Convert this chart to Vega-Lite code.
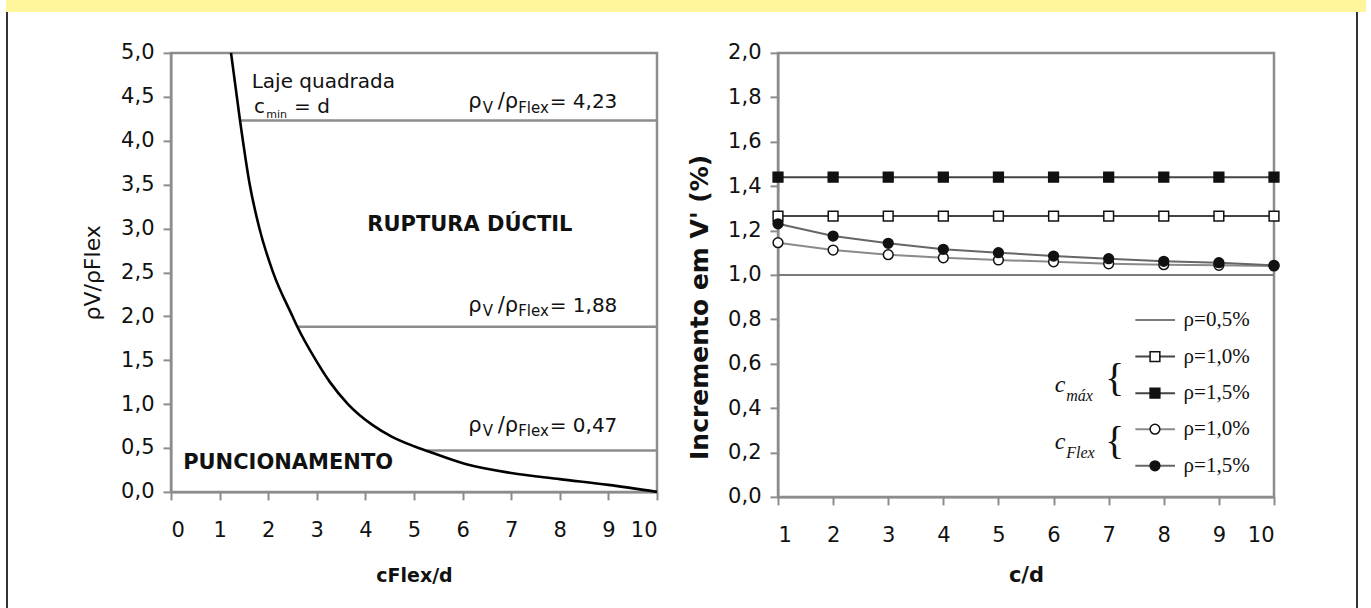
{
  "$schema": "https://vega.github.io/schema/vega-lite/v6.json",
  "padding": {"left": 6, "top": 0, "right": 0, "bottom": 0},
  "background": "#ffffff",
  "spacing": 0,
  "config": {
    "font": "DejaVu Sans",
    "view": {"stroke": null},
    "axis": {"domainColor": "#8c8c8c", "domainWidth": 2, "tickColor": "#8c8c8c", "tickWidth": 2, "tickSize": 8, "labelFont": "DejaVu Sans", "labelFontSize": 21, "labelColor": "#111111", "titleFont": "DejaVu Sans", "titleColor": "#111111", "grid": false, "labelOverlap": false},
    "text": {"font": "DejaVu Sans", "color": "#111111"}
  },
  "datasets": {
    "curve": [
      {"x": 1.235, "y": 5.0}, {"x": 1.42, "y": 4.23}, {"x": 1.62, "y": 3.5}, {"x": 1.82, "y": 3.0},
      {"x": 2.1, "y": 2.5}, {"x": 2.5, "y": 2.0}, {"x": 2.6, "y": 1.88}, {"x": 2.98, "y": 1.5},
      {"x": 3.27, "y": 1.25}, {"x": 3.64, "y": 1.0}, {"x": 4.15, "y": 0.76}, {"x": 4.54, "y": 0.63},
      {"x": 5.0, "y": 0.52}, {"x": 5.3, "y": 0.46}, {"x": 6.04, "y": 0.32}, {"x": 7.0, "y": 0.215},
      {"x": 8.0, "y": 0.145}, {"x": 9.0, "y": 0.08}, {"x": 10.0, "y": 0.0}
    ],
    "limits": [{"x": 1.42, "y": 4.23}, {"x": 2.6, "y": 1.88}, {"x": 5.26, "y": 0.47}],
    "ratio": [
      {"lab": "= 4,23", "x": 6.115, "y": 4.367},
      {"lab": "= 1,88", "x": 6.115, "y": 2.05},
      {"lab": "= 0,47", "x": 6.115, "y": 0.683}
    ],
    "series": [
      {"s": "p05", "x": 1, "y": 1.0}, {"s": "p05", "x": 2, "y": 1.0}, {"s": "p05", "x": 3, "y": 1.0}, {"s": "p05", "x": 4, "y": 1.0}, {"s": "p05", "x": 5, "y": 1.0},
      {"s": "p05", "x": 6, "y": 1.0}, {"s": "p05", "x": 7, "y": 1.0}, {"s": "p05", "x": 8, "y": 1.0}, {"s": "p05", "x": 9, "y": 1.0}, {"s": "p05", "x": 10, "y": 1.0},
      {"s": "max10", "x": 1, "y": 1.265}, {"s": "max10", "x": 2, "y": 1.265}, {"s": "max10", "x": 3, "y": 1.265}, {"s": "max10", "x": 4, "y": 1.265}, {"s": "max10", "x": 5, "y": 1.265},
      {"s": "max10", "x": 6, "y": 1.265}, {"s": "max10", "x": 7, "y": 1.265}, {"s": "max10", "x": 8, "y": 1.265}, {"s": "max10", "x": 9, "y": 1.265}, {"s": "max10", "x": 10, "y": 1.265},
      {"s": "max15", "x": 1, "y": 1.44}, {"s": "max15", "x": 2, "y": 1.44}, {"s": "max15", "x": 3, "y": 1.44}, {"s": "max15", "x": 4, "y": 1.44}, {"s": "max15", "x": 5, "y": 1.44},
      {"s": "max15", "x": 6, "y": 1.44}, {"s": "max15", "x": 7, "y": 1.44}, {"s": "max15", "x": 8, "y": 1.44}, {"s": "max15", "x": 9, "y": 1.44}, {"s": "max15", "x": 10, "y": 1.44},
      {"s": "flex10", "x": 1, "y": 1.145}, {"s": "flex10", "x": 2, "y": 1.112}, {"s": "flex10", "x": 3, "y": 1.091}, {"s": "flex10", "x": 4, "y": 1.077}, {"s": "flex10", "x": 5, "y": 1.067},
      {"s": "flex10", "x": 6, "y": 1.059}, {"s": "flex10", "x": 7, "y": 1.05}, {"s": "flex10", "x": 8, "y": 1.046}, {"s": "flex10", "x": 9, "y": 1.043}, {"s": "flex10", "x": 10, "y": 1.04},
      {"s": "flex15", "x": 1, "y": 1.23}, {"s": "flex15", "x": 2, "y": 1.175}, {"s": "flex15", "x": 3, "y": 1.142}, {"s": "flex15", "x": 4, "y": 1.115}, {"s": "flex15", "x": 5, "y": 1.1},
      {"s": "flex15", "x": 6, "y": 1.085}, {"s": "flex15", "x": 7, "y": 1.073}, {"s": "flex15", "x": 8, "y": 1.061}, {"s": "flex15", "x": 9, "y": 1.055}, {"s": "flex15", "x": 10, "y": 1.043}
    ],
    "legend": [
      {"s": "p05", "label": "ρ=0,5%", "y": 0.797},
      {"s": "max10", "label": "ρ=1,0%", "y": 0.632},
      {"s": "max15", "label": "ρ=1,5%", "y": 0.467},
      {"s": "flex10", "label": "ρ=1,0%", "y": 0.305},
      {"s": "flex15", "label": "ρ=1,5%", "y": 0.14}
    ],
    "groups": [
      {"sub": "máx", "y": 0.53, "cy": 0.471},
      {"sub": "Flex", "y": 0.246, "cy": 0.215}
    ]
  },
  "vconcat": [
    {"width": 1360, "height": 12, "data": {"values": [{}]}, "mark": {"type": "text", "text": ""}, "view": {"fill": "#fff59b", "stroke": null}},
    {
      "hconcat": [
        {"width": 2, "height": 616, "data": {"values": [{}]}, "mark": {"type": "text", "text": ""}, "view": {"fill": "#333333", "stroke": null}},
        {
          "hconcat": [
            {
              "width": 486, "height": 439,
              "view": {"stroke": "#8c8c8c", "strokeWidth": 2.5},
              "layer": [
                {
                  "data": {"name": "limits"},
                  "mark": {"type": "rule", "color": "#8c8c8c", "strokeWidth": 2.5},
                  "encoding": {
                    "x": {"field": "x", "type": "quantitative", "scale": {"domain": [0, 10], "nice": false, "zero": false},
                      "axis": {"values": [0, 1, 2, 3, 4, 5, 6, 7, 8, 9, 10], "format": "d", "labelPadding": 20, "title": "cFlex/d", "titleFontSize": 19, "titleFontWeight": "bold", "titlePadding": 26}},
                    "x2": {"datum": 10},
                    "y": {"field": "y", "type": "quantitative", "scale": {"domain": [0, 5], "nice": false, "zero": false},
                      "axis": {"values": [0, 0.5, 1, 1.5, 2, 2.5, 3, 3.5, 4, 4.5, 5], "labelExpr": "replace(format(datum.value, '.1f'), '.', ',')", "labelPadding": 9, "title": "ρV/ρFlex", "titleFontSize": 22, "titleFontWeight": "normal", "titlePadding": 16}}
                  }
                },
                {
                  "data": {"name": "curve"},
                  "mark": {"type": "line", "color": "#000000", "strokeWidth": 2.6, "interpolate": "monotone"},
                  "encoding": {
                    "x": {"field": "x", "type": "quantitative"},
                    "y": {"field": "y", "type": "quantitative"}
                  }
                },
                {
                  "data": {"name": "ratio"},
                  "mark": {"type": "text", "text": "ρ", "fontSize": 21, "align": "left", "baseline": "alphabetic"},
                  "encoding": {"x": {"field": "x", "type": "quantitative"}, "y": {"field": "y", "type": "quantitative"}}
                },
                {
                  "data": {"name": "ratio"},
                  "mark": {"type": "text", "text": "V", "fontSize": 15, "align": "left", "baseline": "alphabetic", "dx": 14.5, "dy": 4.5},
                  "encoding": {"x": {"field": "x", "type": "quantitative"}, "y": {"field": "y", "type": "quantitative"}}
                },
                {
                  "data": {"name": "ratio"},
                  "mark": {"type": "text", "text": "/ρ", "fontSize": 21, "align": "left", "baseline": "alphabetic", "dx": 29.5},
                  "encoding": {"x": {"field": "x", "type": "quantitative"}, "y": {"field": "y", "type": "quantitative"}}
                },
                {
                  "data": {"name": "ratio"},
                  "mark": {"type": "text", "text": "Flex", "fontSize": 15, "align": "left", "baseline": "alphabetic", "dx": 50, "dy": 4.5},
                  "encoding": {"x": {"field": "x", "type": "quantitative"}, "y": {"field": "y", "type": "quantitative"}}
                },
                {
                  "data": {"name": "ratio"},
                  "mark": {"type": "text", "fontSize": 20, "align": "left", "baseline": "alphabetic", "dx": 81.5},
                  "encoding": {"x": {"field": "x", "type": "quantitative"}, "y": {"field": "y", "type": "quantitative"}, "text": {"field": "lab"}}
                },
                {
                  "data": {"values": [{"t": "Laje quadrada", "x": 1.66, "y": 4.595}]},
                  "mark": {"type": "text", "fontSize": 20, "align": "left", "baseline": "alphabetic"},
                  "encoding": {"x": {"field": "x", "type": "quantitative"}, "y": {"field": "y", "type": "quantitative"}, "text": {"field": "t"}}
                },
                {
                  "data": {"values": [{"t": "c", "x": 1.71, "y": 4.317}]},
                  "mark": {"type": "text", "fontSize": 20, "align": "left", "baseline": "alphabetic"},
                  "encoding": {"x": {"field": "x", "type": "quantitative"}, "y": {"field": "y", "type": "quantitative"}, "text": {"field": "t"}}
                },
                {
                  "data": {"values": [{"t": "min", "x": 1.71, "y": 4.317}]},
                  "mark": {"type": "text", "fontSize": 11, "align": "left", "baseline": "alphabetic", "dx": 12.2, "dy": 5},
                  "encoding": {"x": {"field": "x", "type": "quantitative"}, "y": {"field": "y", "type": "quantitative"}, "text": {"field": "t"}}
                },
                {
                  "data": {"values": [{"t": "= d", "x": 1.71, "y": 4.317}]},
                  "mark": {"type": "text", "fontSize": 20, "align": "left", "baseline": "alphabetic", "dx": 40},
                  "encoding": {"x": {"field": "x", "type": "quantitative"}, "y": {"field": "y", "type": "quantitative"}, "text": {"field": "t"}}
                },
                {
                  "data": {"values": [{"t": "RUPTURA DÚCTIL", "x": 6.15, "y": 2.973}]},
                  "mark": {"type": "text", "fontSize": 21, "fontWeight": "bold", "align": "center", "baseline": "alphabetic"},
                  "encoding": {"x": {"field": "x", "type": "quantitative"}, "y": {"field": "y", "type": "quantitative"}, "text": {"field": "t"}}
                },
                {
                  "data": {"values": [{"t": "PUNCIONAMENTO", "x": 0.25, "y": 0.26}]},
                  "mark": {"type": "text", "fontSize": 21, "fontWeight": "bold", "align": "left", "baseline": "alphabetic"},
                  "encoding": {"x": {"field": "x", "type": "quantitative"}, "y": {"field": "y", "type": "quantitative"}, "text": {"field": "t"}}
                }
              ]
            },
            {
              "width": 496, "height": 444,
              "view": {"stroke": "#8c8c8c", "strokeWidth": 2.5},
              "layer": [
                {
                  "data": {"name": "series"},
                  "mark": {"type": "line"},
                  "encoding": {
                    "x": {"field": "x", "type": "quantitative", "scale": {"domain": [1, 10], "nice": false, "zero": false},
                      "axis": {"values": [1, 2, 3, 4, 5, 6, 7, 8, 9, 10], "format": "d", "labelPadding": 20, "title": "c/d", "titleFontSize": 21, "titleFontWeight": "bold", "titlePadding": 19}},
                    "y": {"field": "y", "type": "quantitative", "scale": {"domain": [0, 2], "nice": false, "zero": false},
                      "axis": {"values": [0, 0.2, 0.4, 0.6, 0.8, 1, 1.2, 1.4, 1.6, 1.8, 2], "labelExpr": "replace(format(datum.value, '.1f'), '.', ',')", "labelPadding": 9, "title": "Incremento em V' (%)", "titleFontSize": 25, "titleFontWeight": "bold", "titlePadding": 15, "titleY": 254}},
                    "color": {"field": "s", "type": "nominal", "legend": null, "scale": {"domain": ["p05", "max10", "max15", "flex10", "flex15"], "range": ["#7a7a7a", "#444444", "#444444", "#8a8a8a", "#666666"]}},
                    "strokeWidth": {"field": "s", "type": "nominal", "legend": null, "scale": {"domain": ["p05", "max10", "max15", "flex10", "flex15"], "range": [2, 2, 2.5, 1.5, 1.5]}}
                  }
                },
                {
                  "data": {"name": "series"},
                  "transform": [{"filter": "datum.s != 'p05'"}],
                  "mark": {"type": "point", "stroke": "#111111", "strokeWidth": 1.5, "opacity": 1},
                  "encoding": {
                    "x": {"field": "x", "type": "quantitative"},
                    "y": {"field": "y", "type": "quantitative"},
                    "shape": {"field": "s", "type": "nominal", "legend": null, "scale": {"domain": ["max10", "max15", "flex10", "flex15"], "range": ["square", "square", "circle", "circle"]}},
                    "fill": {"field": "s", "type": "nominal", "legend": null, "scale": {"domain": ["max10", "max15", "flex10", "flex15"], "range": ["#ffffff", "#111111", "#ffffff", "#111111"]}},
                    "size": {"field": "s", "type": "nominal", "legend": null, "scale": {"domain": ["max10", "max15", "flex10", "flex15"], "range": [95, 95, 50, 50]}}
                  }
                },
                {
                  "data": {"name": "legend"},
                  "mark": {"type": "rule"},
                  "encoding": {
                    "x": {"datum": 7.484, "type": "quantitative"},
                    "x2": {"datum": 8.204},
                    "y": {"field": "y", "type": "quantitative"},
                    "color": {"field": "s", "type": "nominal", "legend": null},
                    "strokeWidth": {"field": "s", "type": "nominal", "legend": null}
                  }
                },
                {
                  "data": {"name": "legend"},
                  "transform": [{"filter": "datum.s != 'p05'"}],
                  "mark": {"type": "point", "stroke": "#111111", "strokeWidth": 1.5, "opacity": 1},
                  "encoding": {
                    "x": {"datum": 7.84, "type": "quantitative"},
                    "y": {"field": "y", "type": "quantitative"},
                    "shape": {"field": "s", "type": "nominal", "legend": null},
                    "fill": {"field": "s", "type": "nominal", "legend": null},
                    "size": {"field": "s", "type": "nominal", "legend": null}
                  }
                },
                {
                  "data": {"name": "legend"},
                  "mark": {"type": "text", "font": "Liberation Serif", "fontSize": 21, "align": "left", "baseline": "middle"},
                  "encoding": {
                    "x": {"datum": 8.36, "type": "quantitative"},
                    "y": {"field": "y", "type": "quantitative"},
                    "text": {"field": "label"}
                  }
                },
                {
                  "data": {"name": "groups"},
                  "mark": {"type": "text", "text": "{", "font": "Liberation Serif", "fontSize": 40, "align": "center", "baseline": "middle"},
                  "encoding": {
                    "x": {"datum": 7.108, "type": "quantitative"},
                    "y": {"field": "y", "type": "quantitative"}
                  }
                },
                {
                  "data": {"name": "groups"},
                  "mark": {"type": "text", "text": "c", "font": "Liberation Serif", "fontStyle": "italic", "fontSize": 24, "align": "left", "baseline": "alphabetic"},
                  "encoding": {
                    "x": {"datum": 6.02, "type": "quantitative"},
                    "y": {"field": "cy", "type": "quantitative"}
                  }
                },
                {
                  "data": {"name": "groups"},
                  "mark": {"type": "text", "font": "Liberation Serif", "fontStyle": "italic", "fontSize": 16, "align": "left", "baseline": "alphabetic", "dx": 11.5, "dy": 9},
                  "encoding": {
                    "x": {"datum": 6.02, "type": "quantitative"},
                    "y": {"field": "cy", "type": "quantitative"},
                    "text": {"field": "sub"}
                  }
                }
              ]
            }
          ],
          "spacing": 22
        },
        {"width": 2, "height": 616, "data": {"values": [{}]}, "mark": {"type": "text", "text": ""}, "view": {"fill": "#333333", "stroke": null}}
      ],
      "spacing": 72,
      "center": true
    }
  ]
}
